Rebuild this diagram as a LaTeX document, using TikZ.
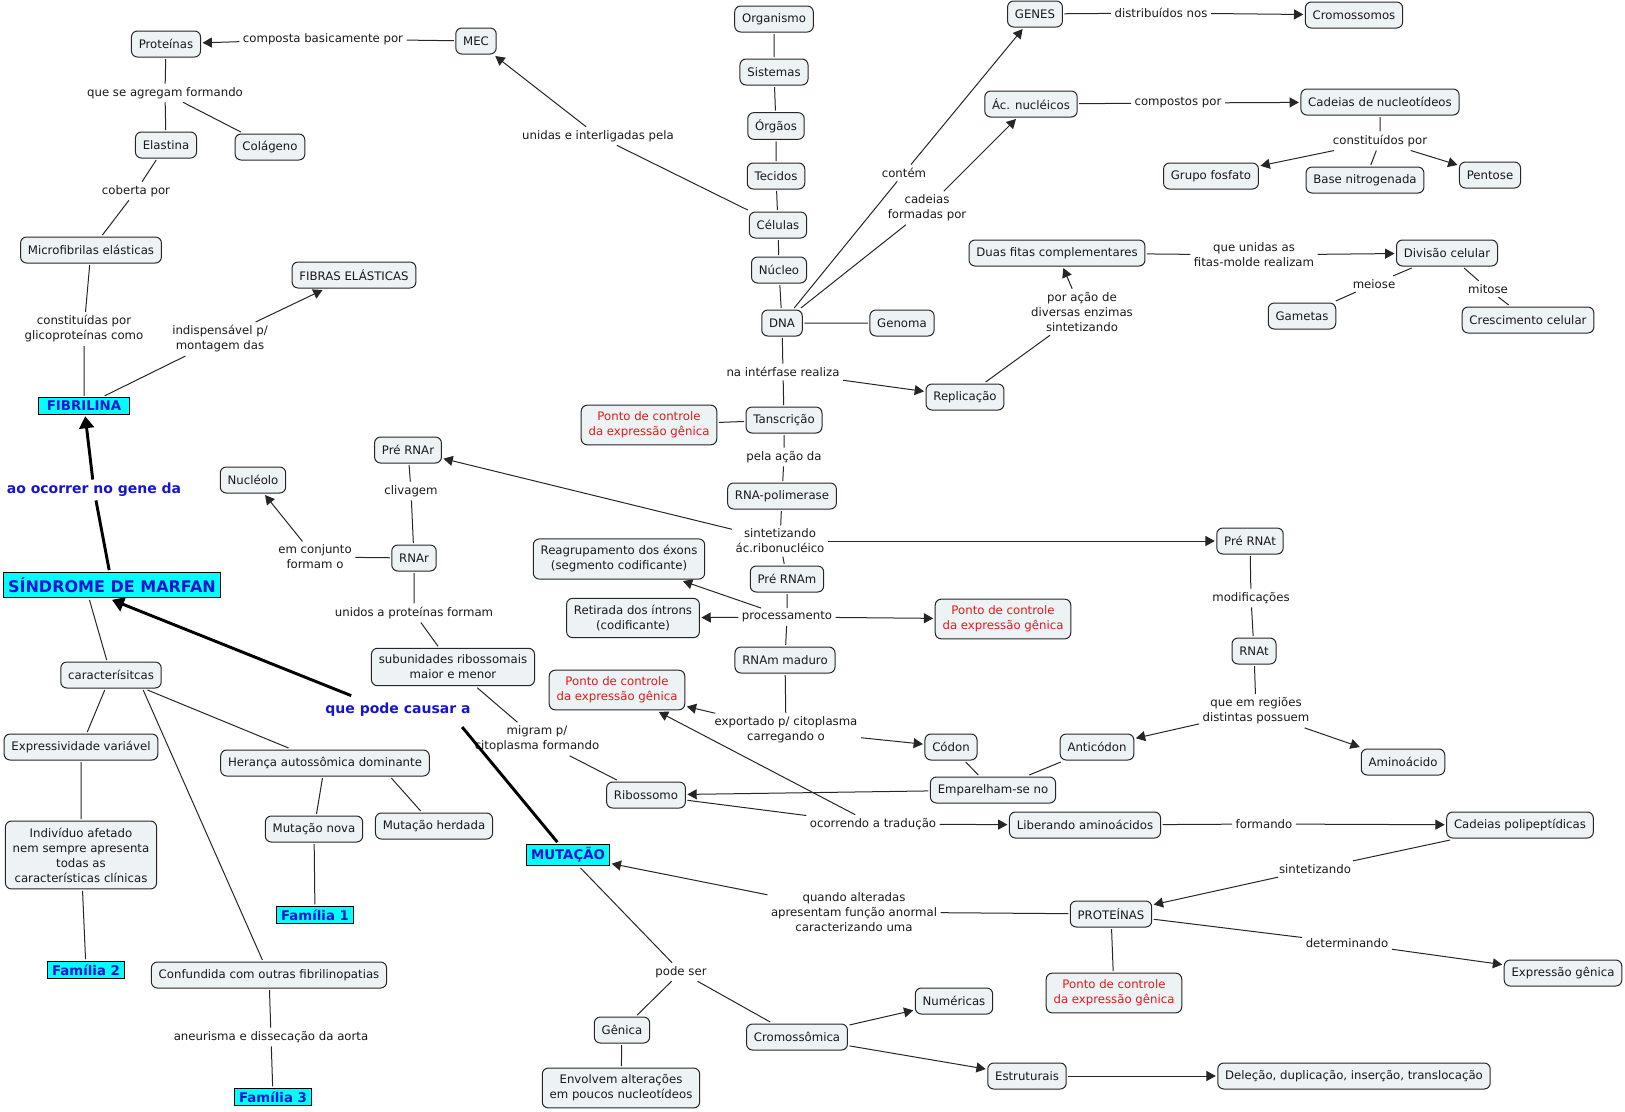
\documentclass[tikz,border=0pt]{standalone}
\usepackage{fontspec}
\setmainfont{DejaVu Sans}
\usetikzlibrary{arrows.meta}
\definecolor{boxfill}{HTML}{EDF2F4}
\definecolor{boxline}{HTML}{262626}
\definecolor{keyfill}{HTML}{00FFFF}
\definecolor{keyblue}{HTML}{1414D2}
\definecolor{ctrlred}{HTML}{E01B1B}
\tikzset{
  concept/.style={
    draw=boxline,
    fill=boxfill,
    line width=0.75pt,
    rounded corners=4.5pt,
    inner xsep=5.5pt,
    inner ysep=5pt,
    minimum height=19.5pt,
    align=center,
    text=black!90,
    outer sep=1.5pt,
    font=\fontsize{8.8}{11.25}\selectfont
  },
  control/.style={
    concept,
    text=ctrlred
  },
  keyword/.style={
    draw=black,
    fill=keyfill,
    line width=0.75pt,
    inner xsep=3.5pt,
    inner ysep=2.5pt,
    text=keyblue,
    outer sep=1.5pt,
    font=\bfseries\fontsize{10}{12}\selectfont
  },
  phrase/.style={
    inner sep=2.5pt,
    align=center,
    text=black!90,
    font=\fontsize{8.8}{11.25}\selectfont
  },
  bluephrase/.style={
    phrase,
    text=keyblue,
    font=\bfseries\fontsize{10.5}{12.5}\selectfont
  },
  link/.style={
    draw=boxline,
    line width=0.75pt
  },
  flow/.style={
    link,
    -{Triangle[length=7pt,width=7.5pt]}
  },
  strongline/.style={
    draw=black,
    line width=2.2pt
  },
  strong/.style={
    strongline,
    -{Triangle[length=9pt,width=11pt]}
  }
}

\begin{document}
\begin{tikzpicture}[x=0.75pt,y=-0.75pt]
  \useasboundingbox (0,0) rectangle (1625,1111);

  % matriz extracelular
  \node[concept] (prot) at (166,44) {Proteínas};
  \node[concept] (mec) at (476,41) {MEC};
  \node[concept] (elast) at (166,145) {Elastina};
  \node[concept] (colag) at (270,147) {Colágeno};
  \node[concept] (microf) at (91,250) {Microfibrilas elásticas};
  \node[concept] (fibras) at (354,275) {FIBRAS ELÁSTICAS};
  \node[keyword, inner xsep=6pt] (fibrilina) at (84,406) {FIBRILINA};
  \node[keyword, font=\bfseries\fontsize{12}{14}\selectfont, inner ysep=4pt]
    (marfan) at (112,585) {SÍNDROME DE MARFAN};

  \node[phrase] (lcomposta) at (323,39) {composta basicamente por};
  \node[phrase] (lagregam) at (165,93) {que se agregam formando};
  \node[phrase] (lcoberta) at (136,191) {coberta por};
  \node[phrase] (lconstit) at (84,329) {constituídas por\\glicoproteínas como};
  \node[phrase] (lindisp) at (220,339) {indispensável p/\\montagem das};
  \node[bluephrase] (lgene) at (94,490) {ao ocorrer no gene da};
  \node[bluephrase] (lcausar) at (398,710) {que pode causar a};
  \node[phrase] (lunidas) at (598,136) {unidas e interligadas pela};

  % niveis de organizacao
  \node[concept] (organismo) at (774,19) {Organismo};
  \node[concept] (sistemas) at (774,72) {Sistemas};
  \node[concept] (orgaos) at (776,126) {Órgãos};
  \node[concept] (tecidos) at (776,176) {Tecidos};
  \node[concept] (celulas) at (778,225) {Células};
  \node[concept] (nucleo) at (779,270) {Núcleo};
  \node[concept] (dna) at (782,323) {DNA};
  \node[concept] (genoma) at (902,323) {Genoma};

  % DNA
  \node[concept] (genes) at (1035,14) {GENES};
  \node[concept] (cromos) at (1354,15) {Cromossomos};
  \node[concept] (acnuc) at (1031,104) {Ác. nucléicos};
  \node[concept] (cadnuc) at (1380,102) {Cadeias de nucleotídeos};
  \node[concept] (fosfato) at (1211,176) {Grupo fosfato};
  \node[concept] (base) at (1365,180) {Base nitrogenada};
  \node[concept] (pentose) at (1490,175) {Pentose};
  \node[concept] (duasfitas) at (1057,253) {Duas fitas complementares};
  \node[concept] (divisao) at (1447,253) {Divisão celular};
  \node[concept] (gametas) at (1302,316) {Gametas};
  \node[concept] (cresc) at (1528,320) {Crescimento celular};
  \node[concept] (replic) at (965,397) {Replicação};

  \node[phrase] (lcontem) at (904,173) {contém};
  \node[phrase] (lcadeias) at (927,208) {cadeias\\formadas por};
  \node[phrase] (ldistrib) at (1161,13) {distribuídos nos};
  \node[phrase] (lcompostos) at (1178,103) {compostos por};
  \node[phrase] (lconstituidos) at (1380,141) {constituídos por};
  \node[phrase] (lfitas) at (1254,255) {que unidas as\\fitas-molde realizam};
  \node[phrase] (lmeiose) at (1374,284) {meiose};
  \node[phrase] (lmitose) at (1488,289) {mitose};
  \node[phrase] (lacao) at (1082,312) {por ação de\\diversas enzimas\\sintetizando};
  \node[phrase] (linterfase) at (783,372) {na intérfase realiza};

  % transcricao
  \node[control] (pontoA) at (649,425) {Ponto de controle\\da expressão gênica};
  \node[concept] (transc) at (784,420) {Tanscrição};
  \node[concept] (rnapol) at (782,496) {RNA-polimerase};
  \node[concept] (prernar) at (408,450) {Pré RNAr};
  \node[concept] (nucleolo) at (253,480) {Nucléolo};
  \node[concept] (rnar) at (414,558) {RNAr};
  \node[concept] (subun) at (453,667) {subunidades ribossomais\\maior e menor};
  \node[concept] (prernat) at (1250,541) {Pré RNAt};
  \node[concept] (rnat) at (1254,651) {RNAt};
  \node[concept] (reagrup) at (619,559) {Reagrupamento dos éxons\\(segmento codificante)};
  \node[concept] (prernam) at (787,579) {Pré RNAm};
  \node[concept] (retirada) at (633,618) {Retirada dos íntrons\\(codificante)};
  \node[control] (pontoB) at (1003,619) {Ponto de controle\\da expressão gênica};
  \node[concept] (rnam) at (785,660) {RNAm maduro};
  \node[control] (pontoC) at (617,690) {Ponto de controle\\da expressão gênica};

  \node[phrase] (lpelaacao) at (784,457) {pela ação da};
  \node[phrase] (lsintetiz) at (780,541) {sintetizando\\ác.ribonucléico};
  \node[phrase] (lclivagem) at (411,491) {clivagem};
  \node[phrase] (lconjunto) at (315,557) {em conjunto\\formam o};
  \node[phrase] (lunidosprot) at (414,613) {unidos a proteínas formam};
  \node[phrase] (lprocess) at (787,617) {processamento};
  \node[phrase] (lmodif) at (1251,598) {modificações};
  \node[phrase] (lregioes) at (1256,711) {que em regiões\\distintas possuem};
  \node[phrase] (lexportado) at (786,730) {exportado p/ citoplasma\\carregando o};
  \node[phrase] (lmigram) at (537,739) {migram p/\\citoplasma formando};

  % traducao
  \node[concept] (codon) at (951,747) {Códon};
  \node[concept] (anticodon) at (1097,747) {Anticódon};
  \node[concept] (aminoac) at (1403,762) {Aminoácido};
  \node[concept] (empar) at (993,790) {Emparelham-se no};
  \node[concept] (ribos) at (646,795) {Ribossomo};
  \node[concept] (liberando) at (1085,825) {Liberando aminoácidos};
  \node[concept] (cadpoli) at (1520,825) {Cadeias polipeptídicas};
  \node[concept] (proteinas) at (1111,914) {PROTEÍNAS};
  \node[control] (pontoD) at (1114,993) {Ponto de controle\\da expressão gênica};
  \node[concept] (expgen) at (1563,973) {Expressão gênica};

  \node[phrase] (ltraducao) at (873,824) {ocorrendo a tradução};
  \node[phrase] (lformando) at (1264,824) {formando};
  \node[phrase] (lsintetiz2) at (1315,869) {sintetizando};
  \node[phrase] (lquando) at (854,912) {quando alteradas\\apresentam função anormal\\caracterizando uma};
  \node[phrase] (ldeterm) at (1347,943) {determinando};

  % mutacao
  \node[keyword] (mutacao) at (568,855) {MUTAÇÃO};
  \node[concept] (genica) at (622,1030) {Gênica};
  \node[concept] (envolvem) at (621,1088) {Envolvem alterações\\em poucos nucleotídeos};
  \node[concept] (cromossomica) at (797,1037) {Cromossômica};
  \node[concept] (numericas) at (954,1001) {Numéricas};
  \node[concept] (estrut) at (1027,1076) {Estruturais};
  \node[concept] (delecao) at (1354,1076) {Deleção, duplicação, inserção, translocação};
  \node[phrase] (lpodeser) at (681,972) {pode ser};

  % caracteristicas
  \node[concept] (caract) at (111,675) {caracterísitcas};
  \node[concept] (expvar) at (81,747) {Expressividade variável};
  \node[concept] (heranca) at (325,763) {Herança autossômica dominante};
  \node[concept] (mutnova) at (314,829) {Mutação nova};
  \node[concept] (mutherd) at (434,826) {Mutação herdada};
  \node[concept] (indiv) at (81,855)
    {Indivíduo afetado\\nem sempre apresenta\\todas as\\características clínicas};
  \node[concept] (confund) at (269,975) {Confundida com outras fibrilinopatias};
  \node[keyword] (fam1) at (315,915) {Família 1};
  \node[keyword] (fam2) at (86,970) {Família 2};
  \node[keyword] (fam3) at (273,1097) {Família 3};
  \node[phrase] (laneurisma) at (271,1037) {aneurisma e dissecação da aorta};

  % ligacoes
  \draw[link] (mec) -- (lcomposta);
  \draw[flow] (lcomposta) -- (prot);
  \draw[link] (prot) -- (lagregam);
  \draw[link] (lagregam) -- (elast);
  \draw[link] (lagregam) -- (colag);
  \draw[link] (elast) -- (lcoberta) -- (microf);
  \draw[link] (microf) -- (lconstit) -- (fibrilina);
  \draw[link] (fibrilina) -- (lindisp);
  \draw[flow] (lindisp) -- (fibras);
  \draw[strongline] (marfan) -- (lgene);
  \draw[strong] (lgene) -- (fibrilina);
  \draw[strongline] (mutacao) -- ([xshift=-9pt,yshift=-5pt]lcausar.south east);
  \draw[strong] ([xshift=22pt,yshift=3pt]lcausar.north west) -- (marfan.south);
  \draw[link] (celulas) -- (lunidas);
  \draw[flow] (lunidas) -- (mec);

  \draw[link] (organismo) -- (sistemas) -- (orgaos) -- (tecidos)
    -- (celulas) -- (nucleo) -- (dna) -- (genoma);
  \draw[link] (dna) -- (lcontem);
  \draw[flow] (lcontem) -- (genes);
  \draw[link] (dna) -- (lcadeias);
  \draw[flow] (lcadeias) -- (acnuc);
  \draw[link] (genes) -- (ldistrib);
  \draw[flow] (ldistrib) -- (cromos);
  \draw[link] (acnuc) -- (lcompostos);
  \draw[flow] (lcompostos) -- (cadnuc);
  \draw[link] (cadnuc) -- (lconstituidos) -- (base);
  \draw[flow] (lconstituidos) -- (fosfato);
  \draw[flow] (lconstituidos) -- (pentose);
  \draw[link] (duasfitas) -- (lfitas);
  \draw[flow] (lfitas) -- (divisao);
  \draw[link] (divisao) -- (lmeiose) -- (gametas);
  \draw[link] (divisao) -- (lmitose) -- (cresc);
  \draw[link] (dna) -- (linterfase) -- (transc);
  \draw[flow] (linterfase) -- (replic);
  \draw[link] (replic) -- (lacao);
  \draw[flow] (lacao) -- (duasfitas);

  \draw[link] (pontoA) -- (transc);
  \draw[link] (transc) -- (lpelaacao) -- (rnapol);
  \draw[link] (rnapol) -- (lsintetiz) -- (prernam);
  \draw[flow] (lsintetiz) -- (prernar);
  \draw[flow] (lsintetiz) -- (prernat);
  \draw[link] (prernar) -- (lclivagem) -- (rnar);
  \draw[link] (rnar) -- (lconjunto);
  \draw[flow] (lconjunto) -- (nucleolo);
  \draw[link] (rnar) -- (lunidosprot) -- (subun);
  \draw[link] (subun) -- (lmigram) -- (ribos);
  \draw[link] (prernam) -- (lprocess) -- (rnam);
  \draw[flow] (lprocess) -- (reagrup);
  \draw[flow] (lprocess) -- (retirada);
  \draw[flow] (lprocess) -- (pontoB);
  \draw[link] (rnam) -- (lexportado);
  \draw[flow] (lexportado) -- (pontoC);
  \draw[flow] (lexportado) -- (codon);
  \draw[link] (prernat) -- (lmodif) -- (rnat);
  \draw[link] (rnat) -- (lregioes);
  \draw[flow] (lregioes) -- (anticodon);
  \draw[flow] (lregioes) -- (aminoac);

  \draw[link] (codon) -- (empar) -- (anticodon);
  \draw[flow] (empar) -- (ribos);
  \draw[link] (ribos) -- (ltraducao);
  \draw[flow] (ltraducao) -- (liberando);
  \draw[flow] (ltraducao) -- (pontoC);
  \draw[link] (liberando) -- (lformando);
  \draw[flow] (lformando) -- (cadpoli);
  \draw[link] (cadpoli) -- (lsintetiz2);
  \draw[flow] (lsintetiz2) -- (proteinas);
  \draw[link] (proteinas) -- (lquando);
  \draw[flow] (lquando) -- (mutacao);
  \draw[link] (proteinas) -- (ldeterm);
  \draw[flow] (ldeterm) -- (expgen);
  \draw[link] (proteinas) -- (pontoD);

  \draw[link] (mutacao) -- (lpodeser) -- (genica) -- (envolvem);
  \draw[link] (lpodeser) -- (cromossomica);
  \draw[flow] (cromossomica) -- (numericas);
  \draw[flow] (cromossomica) -- (estrut);
  \draw[flow] (estrut) -- (delecao);

  \draw[link] (marfan.south west) ++(88,0) coordinate (marfanfoot);
  \draw[link] (marfanfoot) -- (caract);
  \draw[link] (caract) -- (expvar) -- (indiv) -- (fam2);
  \draw[link] (caract) -- (heranca) -- (mutnova) -- (fam1);
  \draw[link] (heranca.south east) ++(-40,0) coordinate (herancafoot);
  \draw[link] (herancafoot) -- (mutherd);
  \draw[link] (caract.south east) ++(-20,0) coordinate (caractfoot);
  \draw[link] (caractfoot) -- (confund) -- (laneurisma) -- (fam3);
\end{tikzpicture}
\end{document}
